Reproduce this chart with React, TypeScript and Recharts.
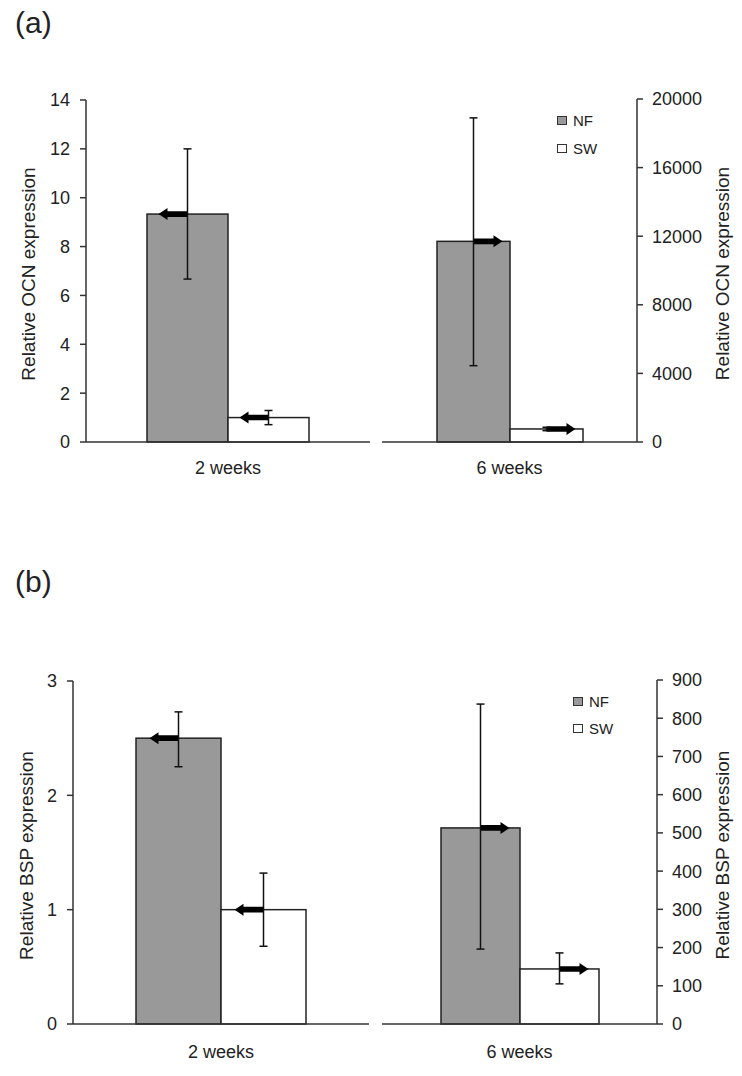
import React from 'react';
import { BarChart, Bar, XAxis, YAxis, ErrorBar, Legend } from 'recharts';

const periods = ['2 weeks', '6 weeks'];
const seriesNames = ['NF', 'SW'];

// (a) OCN: 2 weeks is read on the left axis, 6 weeks on the right axis
const ocnNF = [9.33, 11700];
const ocnNFLow = [6.67, 4450];
const ocnNFHigh = [12.0, 18900];
const ocnSW = [1.0, 760];
const ocnSWLow = [0.71, 660];
const ocnSWHigh = [1.29, 860];
const ocnLeftTicks = [0, 2, 4, 6, 8, 10, 12, 14];
const ocnRightTicks = [0, 4000, 8000, 12000, 16000, 20000];

// (b) BSP
const bspNF = [2.5, 513];
const bspNFLow = [2.25, 196];
const bspNFHigh = [2.73, 837];
const bspSW = [1.0, 144];
const bspSWLow = [0.68, 105];
const bspSWHigh = [1.32, 186];
const bspLeftTicks = [0, 1, 2, 3];
const bspRightTicks = [0, 100, 200, 300, 400, 500, 600, 700, 800, 900];

const FONT = '"Liberation Sans", Arial, sans-serif';
const AXIS = '#333';
const INK = '#222';
const NF_FILL = '#999999';
const SW_FILL = '#ffffff';

type Dir = 'left' | 'right';

// bar with the arrow that points to the axis the bar belongs to
const barShape = (dir: Dir) => (p: any) => {
  const { x, y, width, height, fill } = p;
  const cx = x + width / 2;
  const s = dir === 'left' ? -1 : 1;
  const tip = cx + s * 29;
  const hb = tip - s * 9;
  const t = 2.8;
  const h = 6;
  const d = `M${cx},${y - t} L${hb},${y - t} L${hb},${y - h} L${tip},${y} L${hb},${y + h} L${hb},${y + t} L${cx},${y + t} Z`;
  return (
    <g>
      <rect x={x} y={y} width={width} height={height} fill={fill} stroke={INK} strokeWidth={1.5} />
      <path d={d} fill="#000" />
    </g>
  );
};

const renderLegend = (rowH: number) => () => (
  <div style={{ fontFamily: FONT, fontSize: 15, color: INK }}>
    {seriesNames.map((n, i) => (
      <div key={n} style={{ height: rowH, display: 'flex', alignItems: 'center' }}>
        <span
          style={{
            display: 'inline-block',
            width: 8,
            height: 7,
            border: `1px solid ${AXIS}`,
            background: i === 0 ? NF_FILL : SW_FILL,
            marginRight: 6,
          }}
        />
        {n}
      </div>
    ))}
  </div>
);

interface HalfProps {
  left: number;
  top: number;
  width: number;
  height: number;
  margin: { top: number; right: number; left: number; bottom: number };
  axisWidth: number;
  side: Dir;
  ticks: number[];
  title: string;
  titleX: number;
  barSize: number;
  xTickMargin: number;
  xAxisHeight: number;
  idx: number;
  nf: number[];
  nfLow: number[];
  nfHigh: number[];
  sw: number[];
  swLow: number[];
  swHigh: number[];
  legend?: { left: number; top: number; rowH: number };
}

function Half(props: HalfProps) {
  const { idx, nf, nfLow, nfHigh, sw, swLow, swHigh, margin, height, xAxisHeight } = props;
  const data = [
    {
      period: periods[idx],
      NF: nf[idx],
      SW: sw[idx],
      nfErr: [nf[idx] - nfLow[idx], nfHigh[idx] - nf[idx]],
      swErr: [sw[idx] - swLow[idx], swHigh[idx] - sw[idx]],
    },
  ];
  const plotH = height - margin.top - margin.bottom - xAxisHeight;
  const cy = margin.top + plotH / 2 + 3;
  const tx = props.titleX;

  return (
    <div style={{ position: 'absolute', left: props.left, top: props.top }}>
      <BarChart width={props.width} height={height} data={data} margin={margin} barGap={0} barSize={props.barSize}>
        <XAxis
          dataKey="period"
          tickLine={false}
          tickSize={0}
          tickMargin={props.xTickMargin}
          height={xAxisHeight}
          axisLine={{ stroke: AXIS, strokeWidth: 1.5 }}
          tick={{ fill: INK, fontSize: 18, fontFamily: FONT }}
        />
        <YAxis
          orientation={props.side}
          domain={[0, props.ticks[props.ticks.length - 1]]}
          ticks={props.ticks}
          interval={0}
          width={props.axisWidth}
          axisLine={{ stroke: AXIS, strokeWidth: 1.5 }}
          tickLine={{ stroke: AXIS, strokeWidth: 1.5 }}
          tickSize={6}
          tickMargin={props.side === 'left' ? 10 : 9}
          tick={{ fill: INK, fontSize: 18, fontFamily: FONT }}
          label={{
            content: () => (
              <text
                x={tx}
                y={cy}
                transform={`rotate(-90 ${tx} ${cy})`}
                textAnchor="middle"
                dominantBaseline="central"
                fill={INK}
                fontSize={19}
                fontFamily={FONT}
              >
                {props.title}
              </text>
            ),
          }}
        />
        <Bar dataKey="NF" fill={NF_FILL} isAnimationActive={false} shape={barShape(props.side)}>
          <ErrorBar dataKey="nfErr" width={4} stroke="#111" strokeWidth={1.5} direction="y" />
        </Bar>
        <Bar dataKey="SW" fill={SW_FILL} isAnimationActive={false} shape={barShape(props.side)}>
          <ErrorBar dataKey="swErr" width={4} stroke="#111" strokeWidth={1.5} direction="y" />
        </Bar>
        {props.legend && (
          <Legend
            layout="vertical"
            align="center"
            verticalAlign="middle"
            content={renderLegend(props.legend.rowH)}
            wrapperStyle={{ left: props.legend.left, top: props.legend.top, width: 'auto', height: 'auto' }}
          />
        )}
      </BarChart>
    </div>
  );
}

const panelLabel = (text: string, top: number) => (
  <div style={{ position: 'absolute', left: 15, top, fontFamily: FONT, fontSize: 30, lineHeight: '34px', color: INK }}>
    {text}
  </div>
);

export default function App() {
  return (
    <div
      style={{
        position: 'absolute',
        left: 0,
        top: 0,
        width: 742,
        height: 1076,
        background: '#fff',
        overflow: 'hidden',
        fontFamily: FONT,
      }}
    >
      {panelLabel('(a)', 6)}
      <Half
        left={0}
        top={80}
        width={380}
        height={420}
        margin={{ top: 20, right: 10, left: 0, bottom: 0 }}
        axisWidth={86}
        side="left"
        ticks={ocnLeftTicks}
        title="Relative OCN expression"
        titleX={28}
        barSize={81}
        xTickMargin={19}
        xAxisHeight={58}
        idx={0}
        nf={ocnNF}
        nfLow={ocnNFLow}
        nfHigh={ocnNFHigh}
        sw={ocnSW}
        swLow={ocnSWLow}
        swHigh={ocnSWHigh}
      />
      <Half
        left={370}
        top={80}
        width={372}
        height={420}
        margin={{ top: 19, right: 0, left: 12, bottom: 0 }}
        axisWidth={105}
        side="right"
        ticks={ocnRightTicks}
        title="Relative OCN expression"
        titleX={352}
        barSize={73}
        xTickMargin={19}
        xAxisHeight={58}
        idx={1}
        nf={ocnNF}
        nfLow={ocnNFLow}
        nfHigh={ocnNFHigh}
        sw={ocnSW}
        swLow={ocnSWLow}
        swHigh={ocnSWHigh}
        legend={{ left: 187, top: 26, rowH: 28 }}
      />

      {panelLabel('(b)', 565)}
      <Half
        left={0}
        top={660}
        width={380}
        height={410}
        margin={{ top: 21, right: 11, left: 0, bottom: 0 }}
        axisWidth={73}
        side="left"
        ticks={bspLeftTicks}
        title="Relative BSP expression"
        titleX={26}
        barSize={85}
        xTickMargin={21}
        xAxisHeight={46}
        idx={0}
        nf={bspNF}
        nfLow={bspNFLow}
        nfHigh={bspNFHigh}
        sw={bspSW}
        swLow={bspSWLow}
        swHigh={bspSWHigh}
      />
      <Half
        left={370}
        top={660}
        width={372}
        height={410}
        margin={{ top: 20, right: 0, left: 12, bottom: 0 }}
        axisWidth={85}
        side="right"
        ticks={bspRightTicks}
        title="Relative BSP expression"
        titleX={352}
        barSize={79}
        xTickMargin={21}
        xAxisHeight={46}
        idx={1}
        nf={bspNF}
        nfLow={bspNFLow}
        nfHigh={bspNFHigh}
        sw={bspSW}
        swLow={bspSWLow}
        swHigh={bspSWHigh}
        legend={{ left: 203, top: 28, rowH: 27 }}
      />
    </div>
  );
}
